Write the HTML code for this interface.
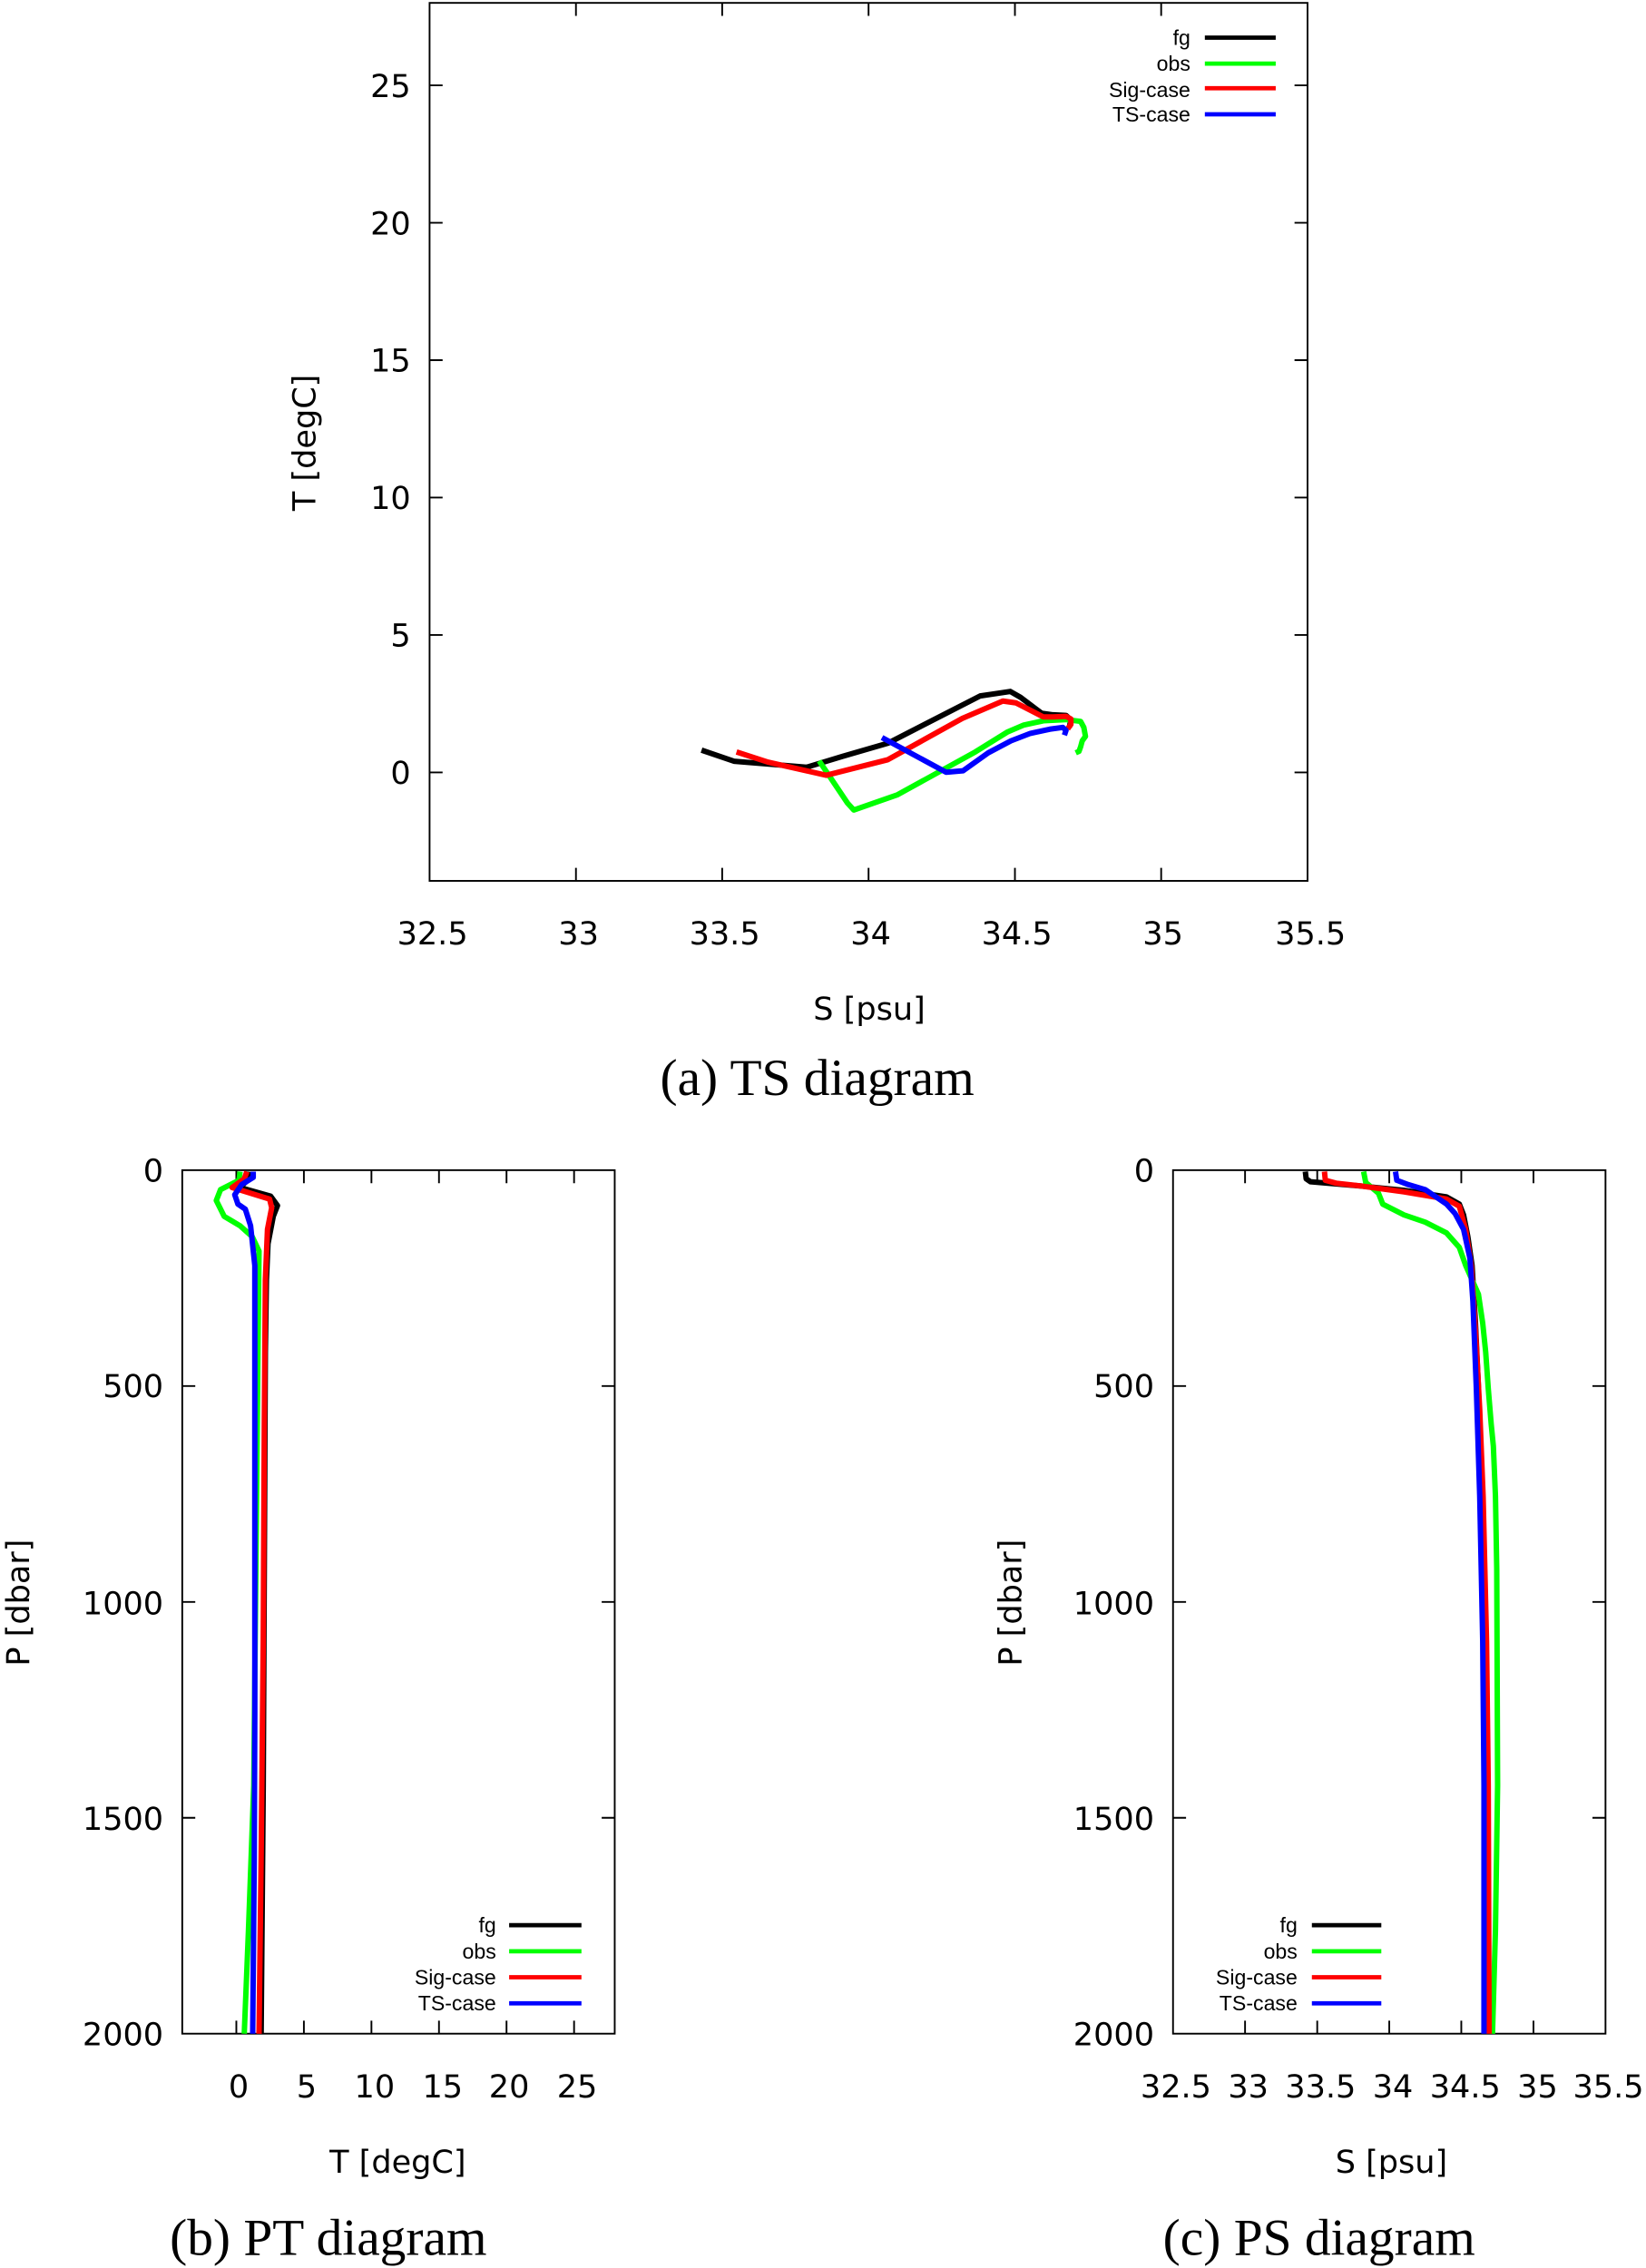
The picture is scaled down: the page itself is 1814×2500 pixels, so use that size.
<!DOCTYPE html>
<html><head><meta charset="utf-8"><style>
html,body{margin:0;padding:0;background:#fff;}
svg{display:block;}
.t{font-family:"DejaVu Sans","Liberation Sans",sans-serif;font-size:22px;fill:#000;}
.lg{font-family:"Liberation Sans",sans-serif;font-size:14.5px;fill:#000;}
.cap{font-family:"Liberation Serif",serif;font-size:36px;fill:#000;}
.ln{fill:none;stroke-width:6;vector-effect:non-scaling-stroke;stroke-linejoin:round;}
</style></head><body>
<svg width="1814" height="2500" viewBox="0 0 1138 1568" preserveAspectRatio="none" xmlns="http://www.w3.org/2000/svg">
<rect width="1138" height="1568" fill="#fff"/>
<g stroke="#000" stroke-width="1.2" fill="none">
<rect x="297" y="2" width="607" height="607"/>
<path d="M398.2 609v-9M499.3 609v-9M600.5 609v-9M701.7 609v-9M802.8 609v-9M398.2 2v9M499.3 2v9M600.5 2v9M701.7 2v9M802.8 2v9
M297 534h9M297 439h9M297 344h9M297 249h9M297 154h9M297 59h9M904 534h-9M904 439h-9M904 344h-9M904 249h-9M904 154h-9M904 59h-9"/>
<rect x="126" y="809" width="299" height="597"/>
<path d="M163.4 1406v-9M210.1 1406v-9M256.8 1406v-9M303.5 1406v-9M350.2 1406v-9M396.9 1406v-9M163.4 809v9M210.1 809v9M256.8 809v9M303.5 809v9M350.2 809v9M396.9 809v9
M126 958.25h9M126 1107.5h9M126 1256.75h9M425 958.25h-9M425 1107.5h-9M425 1256.75h-9"/>
<rect x="811" y="809" width="299" height="597"/>
<path d="M860.8 1406v-9M910.7 1406v-9M960.5 1406v-9M1010.3 1406v-9M1060.2 1406v-9M860.8 809v9M910.7 809v9M960.5 809v9M1010.3 809v9M1060.2 809v9
M811 958.25h9M811 1107.5h9M811 1256.75h9M1110 958.25h-9M1110 1107.5h-9M1110 1256.75h-9"/>
</g>
<g class="t" text-anchor="end">
<text x="284" y="542">0</text><text x="284" y="447">5</text><text x="284" y="352">10</text><text x="284" y="257">15</text><text x="284" y="162">20</text><text x="284" y="67">25</text>
</g>
<g class="t" text-anchor="middle">
<text x="299" y="653">32.5</text><text x="400" y="653">33</text><text x="501" y="653">33.5</text><text x="602" y="653">34</text><text x="703" y="653">34.5</text><text x="804" y="653">35</text><text x="906" y="653">35.5</text>
<text x="601" y="705">S [psu]</text>
<text transform="translate(218,306) rotate(-90)">T [degC]</text>
</g>
<text class="cap" x="565" y="757" text-anchor="middle">(a) TS diagram</text>
<g class="lg" text-anchor="end"><text x="823" y="31">fg</text><text x="823" y="49">obs</text><text x="823" y="67">Sig-case</text><text x="823" y="84">TS-case</text></g>
<g stroke-width="3">
<path d="M833 26h49" stroke="#000"/><path d="M833 44h49" stroke="#00ff00"/><path d="M833 61h49" stroke="#ff0000"/><path d="M833 79h49" stroke="#0000ff"/>
</g>
<g transform="translate(439.1,453.2) scale(0.224,0.207)">
<polyline class="ln" stroke="#000" points="205,316 305,353 530,373 640,337 780,293 1065,135 1158,120 1190,140 1255,193 1290,198 1330,200 1345,215 1340,240"/>
<polyline class="ln" stroke="#00ff00" points="568,352 598,400 655,492 675,516 810,465 1050,322 1150,255 1200,232 1260,218 1330,214 1375,220 1385,240 1390,270 1380,285 1375,305 1370,320 1360,325"/>
<polyline class="ln" stroke="#ff0000" points="313,322 410,356 590,400 780,348 1010,210 1135,152 1175,158 1260,205 1290,205 1330,203 1345,212 1345,230 1335,245"/>
<polyline class="ln" stroke="#0000ff" points="762,274 960,390 1012,385 1090,325 1160,285 1220,260 1280,246 1320,240 1330,250 1325,266"/>
</g>
<g class="t" text-anchor="end">
<text x="113" y="817">0</text><text x="113" y="966">500</text><text x="113" y="1116">1000</text><text x="113" y="1265">1500</text><text x="113" y="1414">2000</text>
</g>
<g class="t" text-anchor="middle">
<text x="165" y="1450">0</text><text x="212" y="1450">5</text><text x="259" y="1450">10</text><text x="306" y="1450">15</text><text x="352" y="1450">20</text><text x="399" y="1450">25</text>
<text x="275" y="1502">T [degC]</text>
<text transform="translate(20,1108) rotate(-90)">P [dbar]</text>
</g>
<text class="cap" x="227" y="1559" text-anchor="middle">(b) PT diagram</text>
<g class="lg" text-anchor="end"><text x="343" y="1336">fg</text><text x="343" y="1354">obs</text><text x="343" y="1372">Sig-case</text><text x="343" y="1390">TS-case</text></g>
<g stroke-width="3">
<path d="M352 1331h50" stroke="#000"/><path d="M352 1349h50" stroke="#00ff00"/><path d="M352 1367h50" stroke="#ff0000"/><path d="M352 1385h50" stroke="#0000ff"/>
</g>
<g transform="translate(163.4,809) scale(0.3648,0.4992) translate(-455,-48)">
<polyline class="ln" stroke="#000" points="478,50 476,62 462,72 520,84 533,97 525,112 515,150 512,200 510,300 508,600 506,900 502,1244"/>
<polyline class="ln" stroke="#00ff00" points="462,50 460,62 425,75 417,90 432,112 462,125 485,140 498,160 496,300 492,600 488,900 478,1100 470,1244"/>
<polyline class="ln" stroke="#ff0000" points="475,50 470,60 447,72 518,88 522,100 514,130 510,200 508,400 506,700 502,1000 498,1244"/>
<polyline class="ln" stroke="#0000ff" points="487,50 487,58 465,68 452,82 458,95 472,102 482,125 490,180 490,400 490,800 489,1000 486,1244"/>
</g>
<g class="t" text-anchor="end">
<text x="798" y="817">0</text><text x="798" y="966">500</text><text x="798" y="1116">1000</text><text x="798" y="1265">1500</text><text x="798" y="1414">2000</text>
</g>
<g class="t" text-anchor="middle">
<text x="813" y="1450">32.5</text><text x="863" y="1450">33</text><text x="913" y="1450">33.5</text><text x="963" y="1450">34</text><text x="1013" y="1450">34.5</text><text x="1063" y="1450">35</text><text x="1112" y="1450">35.5</text>
<text x="962" y="1502">S [psu]</text>
<text transform="translate(706,1108) rotate(-90)">P [dbar]</text>
</g>
<text class="cap" x="912" y="1559" text-anchor="middle">(c) PS diagram</text>
<g class="lg" text-anchor="end"><text x="897" y="1336">fg</text><text x="897" y="1354">obs</text><text x="897" y="1372">Sig-case</text><text x="897" y="1390">TS-case</text></g>
<g stroke-width="3">
<path d="M907 1331h48" stroke="#000"/><path d="M907 1349h48" stroke="#00ff00"/><path d="M907 1367h48" stroke="#ff0000"/><path d="M907 1385h48" stroke="#0000ff"/>
</g>
<g transform="translate(811,809) scale(0.2941,0.4992) translate(-457,-48)">
<polyline class="ln" stroke="#000" points="768,50 770,60 780,64 900,70 1000,76 1100,85 1130,95 1140,110 1150,140 1160,180 1168,260 1175,350 1182,500 1190,700 1195,900 1197,1244"/>
<polyline class="ln" stroke="#00ff00" points="905,50 910,65 940,80 950,95 1000,110 1050,120 1100,135 1130,155 1145,180 1160,200 1175,220 1185,260 1192,300 1198,350 1205,400 1210,430 1215,500 1218,600 1220,900 1215,1100 1208,1244"/>
<polyline class="ln" stroke="#ff0000" points="813,50 815,62 840,66 900,70 1000,78 1100,88 1130,98 1145,130 1158,180 1168,270 1178,380 1186,500 1194,700 1198,900 1200,1244"/>
<polyline class="ln" stroke="#0000ff" points="980,50 983,62 1010,68 1050,75 1075,85 1100,95 1120,108 1140,130 1155,170 1162,230 1170,350 1178,500 1185,700 1188,900 1188,1244"/>
</g>
</svg>
</body></html>
